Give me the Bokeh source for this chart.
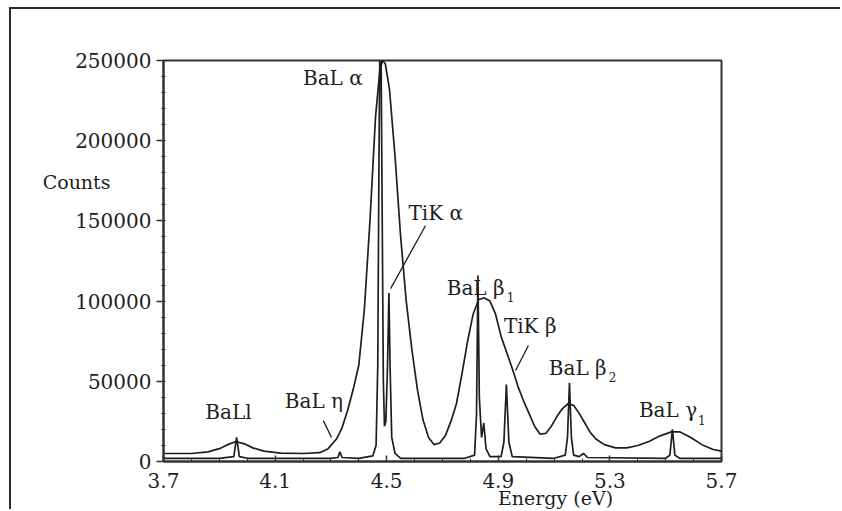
from bokeh.plotting import figure
from bokeh.models import (Range1d, SingleIntervalTicker, FixedTicker, BasicTickFormatter,
                          ColumnDataSource, LinearAxis)
from bokeh.core.properties import value
from bokeh.embed import file_html
from bokeh.resources import INLINE

# Broad (energy-dispersive) spectrum
eds_energy = [3.70, 3.80, 3.86, 3.90, 3.93, 3.96, 3.99, 4.02, 4.06, 4.12, 4.20, 4.26, 4.29, 4.32,
              4.34, 4.36, 4.38, 4.40, 4.42, 4.44, 4.46, 4.475, 4.485, 4.495, 4.51, 4.53, 4.55,
              4.57, 4.59, 4.61, 4.63, 4.65, 4.67, 4.69, 4.71, 4.73, 4.75, 4.77, 4.79, 4.81, 4.83,
              4.85, 4.87, 4.89, 4.91, 4.93, 4.95, 4.97, 4.99, 5.01, 5.03, 5.05, 5.07, 5.09, 5.11,
              5.13, 5.15, 5.17, 5.19, 5.21, 5.23, 5.25, 5.28, 5.32, 5.36, 5.40, 5.44, 5.48, 5.52,
              5.55, 5.59, 5.63, 5.67, 5.70]
eds_counts = [5000, 5000, 6000, 8000, 10500, 12500, 11000, 8500, 6500, 5200, 5000, 5500, 8000, 14000,
              21000, 32000, 45000, 60000, 95000, 150000, 215000, 243000, 250000, 248000, 232000, 190000, 140000,
              100000, 70000, 45000, 26000, 15000, 10500, 11500, 16000, 25000, 36000, 55000, 75000, 92000, 101000,
              102000, 100000, 92000, 78000, 68000, 58000, 47000, 38000, 30000, 22000, 17000, 17500, 22000, 28000,
              33000, 36000, 35000, 30000, 24000, 18000, 14000, 10500, 8500, 8500, 10000, 12500, 16000, 18500,
              18500, 15000, 10500, 7500, 6500]

# Narrow (wavelength-dispersive) spectrum
wds_energy = [3.70, 3.90, 3.952, 3.962, 3.972, 4.00, 4.30, 4.325, 4.332, 4.34, 4.40, 4.45, 4.462,
              4.468, 4.472, 4.475, 4.480, 4.484, 4.488, 4.492, 4.497, 4.503, 4.508, 4.512, 4.518,
              4.53, 4.55, 4.78, 4.815, 4.822, 4.827, 4.832, 4.84, 4.848, 4.856, 4.87, 4.91, 4.92,
              4.929, 4.938, 4.95, 5.10, 5.14, 5.148, 5.155, 5.162, 5.17, 5.19, 5.205, 5.22, 5.50,
              5.515, 5.524, 5.533, 5.55, 5.70]
wds_counts = [2000, 2000, 3000, 15000, 3000, 2000, 2000, 2500, 6000, 2500, 2000, 3500, 10000,
              60000, 180000, 250000, 250000, 150000, 50000, 22000, 25000, 60000, 105000, 60000, 15000,
              5000, 2000, 2000, 4000, 30000, 116000, 40000, 15000, 24000, 8000, 3000, 3000, 12000,
              48000, 12000, 3000, 2000, 4000, 15000, 49000, 15000, 4000, 3000, 5000, 2500, 2000,
              4000, 20000, 4000, 2000, 2000]

x_ticks = [3.7, 4.1, 4.5, 4.9, 5.3, 5.7]
x_tick_labels = ["3.7", "4.1", "4.5", "4.9", "5.3", "5.7"]
x_minor_ticks = [3.8, 3.9, 4.0, 4.2, 4.3, 4.4, 4.6, 4.7, 4.8, 5.0, 5.1, 5.2, 5.4, 5.5, 5.6]

x_title = "Energy (eV)"
x_title_at = 5.105
y_title = "Counts"
y_title_at = 174000

peak_names = ["BaL α", "TiK α", "BaL β", "TiK β", "BaL β", "BaL γ", "BaLl", "BaL η"]
peak_name_x = [4.2, 4.578, 4.715, 4.92, 5.081, 5.404, 3.85, 4.135]
peak_name_y = [239200, 155100, 108400, 84700, 58600, 31800, 31150, 38000]
sub_names = ["1", "2", "1"]
sub_x = [4.93, 5.296, 5.616]
sub_y = [102500, 52700, 25900]

leader_x0 = [4.639, 5.008, 4.273]
leader_y0 = [147000, 72300, 25500]
leader_x1 = [4.514, 4.962, 4.302]
leader_y1 = [107800, 56700, 15000]

FONT = "DejaVu Serif"
INK = "#1e1e1e"

p = figure(width=831, height=502, output_backend="svg", toolbar_location=None,
           x_range=Range1d(3.7, 5.7), y_range=Range1d(0, 250000),
           min_border_left=152, min_border_right=121, min_border_top=51, min_border_bottom=50)
p.margin = (7, 0, 0, 9)
p.styles = {"border-left": "2px solid #2a2a2a", "border-top": "2px solid #2a2a2a"}
p.background_fill_color = "white"
p.border_fill_color = "white"
p.outline_line_color = "#333333"
p.outline_line_width = 2
p.xgrid.visible = False
p.ygrid.visible = False

p.line(eds_energy, eds_counts, line_color=INK, line_width=1.7)
p.line(wds_energy, wds_counts, line_color=INK, line_width=1.7)

src = ColumnDataSource(dict(x=peak_name_x, y=peak_name_y, t=peak_names))
p.text(x="x", y="y", text="t", source=src, text_font=value(FONT), text_font_size="20px",
       text_color=INK, text_align="left", text_baseline="middle")
src2 = ColumnDataSource(dict(x=sub_x, y=sub_y, t=sub_names))
p.text(x="x", y="y", text="t", source=src2, text_font=value(FONT), text_font_size="12px",
       text_color=INK, text_align="left", text_baseline="middle")
p.segment(x0=leader_x0, y0=leader_y0, x1=leader_x1, y1=leader_y1, line_color=INK, line_width=1.3)

xa = p.xaxis[0]
xa.ticker = FixedTicker(ticks=x_ticks, minor_ticks=x_minor_ticks)
xa.major_label_overrides = dict(zip(x_ticks, x_tick_labels))
xa.major_tick_in = 6
xa.major_tick_out = 0
xa.minor_tick_in = 3
xa.minor_tick_out = 0

ya = p.yaxis[0]
ya.ticker = SingleIntervalTicker(interval=50000, num_minor_ticks=5)
ya.formatter = BasicTickFormatter(use_scientific=False)
ya.major_tick_in = 0
ya.major_tick_out = 7
ya.minor_tick_in = 2
ya.minor_tick_out = 2

for ax in (xa, ya):
    ax.axis_line_color = "#333333"
    ax.axis_line_width = 2
    ax.major_tick_line_color = "#333333"
    ax.major_tick_line_width = 1.5
    ax.minor_tick_line_color = "#333333"
    ax.major_label_text_font = FONT
    ax.major_label_text_font_size = "20px"
    ax.major_label_text_color = INK
ya.major_label_standoff = 5
xa.major_label_standoff = 11


def title_axis(text, at, side, standoff):
    # an invisible axis whose single tick label is the axis title, placed at a data position
    ax = LinearAxis(ticker=FixedTicker(ticks=[at], minor_ticks=[]))
    ax.major_label_overrides = {at: text}
    ax.axis_line_color = None
    ax.major_tick_line_color = None
    ax.minor_tick_line_color = None
    ax.major_tick_in = 0
    ax.major_tick_out = 0
    ax.minor_tick_in = 0
    ax.minor_tick_out = 0
    ax.major_label_standoff = standoff
    ax.major_label_text_font = FONT
    ax.major_label_text_font_size = "19px"
    ax.major_label_text_color = INK
    p.add_layout(ax, side)
    return ax


title_axis(y_title, y_title_at, "left", -38)
title_axis(x_title, x_title_at, "below", -4)

open("out.html", "w").write(file_html(p, INLINE))
